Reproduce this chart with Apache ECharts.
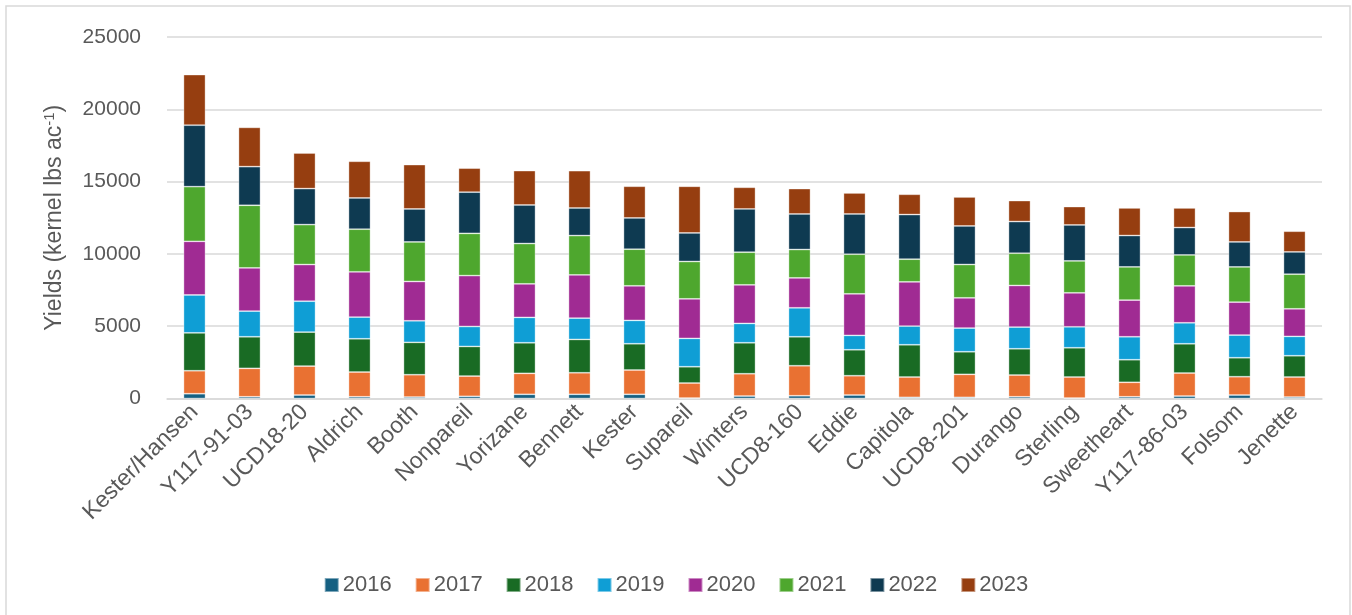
<!DOCTYPE html>
<html>
<head>
<meta charset="utf-8">
<script src="https://cdn.jsdelivr.net/npm/echarts@6/dist/echarts.min.js"></script>
<style>
html,body{margin:0;padding:0;background:#fff;}
#chart{width:1352px;height:615px;}
</style>
</head>
<body>
<div id="chart"></div>
<script>
const categories = ['Kester/Hansen','Y117-91-03','UCD18-20','Aldrich','Booth','Nonpareil','Yorizane','Bennett','Kester','Supareil','Winters','UCD8-160','Eddie','Capitola','UCD8-201','Durango','Sterling','Sweetheart','Y117-86-03','Folsom','Jenette'];
const years = ['2016','2017','2018','2019','2020','2021','2022','2023'];
const y2016 = [330,120,240,120,100,150,290,290,290,30,170,190,240,80,80,120,30,120,170,240,100];
const y2017 = [1590,1965,2000,1710,1545,1400,1450,1490,1680,1040,1543,2075,1335,1405,1591,1503,1455,1000,1591,1266,1385];
const y2018 = [2620,2183,2350,2300,2237,2050,2113,2306,1816,1126,2140,2003,1795,2230,1561,1816,2023,1561,2023,1312,1471];
const y2019 = [2620,1775,2140,1500,1492,1380,1755,1471,1616,1961,1340,2003,995,1292,1637,1499,1450,1588,1451,1567,1340];
const y2020 = [3710,2990,2535,3130,2720,3520,2320,2991,2390,2735,2666,2071,2873,3059,2092,2880,2349,2534,2555,2279,1906];
const y2021 = [3780,4330,2760,2950,2735,2920,2790,2720,2534,2583,2258,1962,2741,1568,2307,2230,2210,2300,2141,2438,2396];
const y2022 = [4250,2672,2490,2160,2280,2850,2666,1907,2162,1975,2991,2458,2783,3087,2666,2189,2486,2168,1892,1727,1540];
const y2023 = [3500,2715,2460,2535,3066,1660,2375,2582,2189,3225,1498,1754,1451,1402,2002,1451,1270,1907,1354,2099,1430];
const yTicks = [0,5000,10000,15000,20000,25000];
const colors = ['#156082','#E97132','#196B24','#0F9ED5','#A02B93','#4EA72E','#0E3A51','#963E10'];

const seriesData = [y2016,y2017,y2018,y2019,y2020,y2021,y2022,y2023];
const chart = echarts.init(document.getElementById('chart'), null, {renderer:'canvas'});
const textColor = '#595959';
const font = 'Liberation Sans, Arial, sans-serif';
const option = {
  animation: false,
  color: colors,
  graphic: [{
    type: 'rect', silent: true, z: -10,
    shape: {x: 6, y: 6, width: 1344, height: 640},
    style: {fill: 'none', stroke: '#d9d9d9', lineWidth: 1.5}
  }],
  grid: {left: 167, right: 30, top: 37, bottom: 216.5, containLabel: false},
  legend: {
    data: years, left: 'center', top: 569,
    itemWidth: 14, itemHeight: 14, itemGap: 23,
    icon: 'rect',
    textStyle: {fontFamily: font, fontSize: 22, color: textColor, padding: [0,0,0,-1]}
  },
  xAxis: {
    type: 'category', data: categories,
    axisLine: {show: true, lineStyle: {color: '#d9d9d9', width: 1.5}},
    axisTick: {show: false},
    axisLabel: {interval: 0, rotate: 45, margin: 10, fontFamily: font, fontSize: 23, color: textColor}
  },
  yAxis: {
    type: 'value', min: yTicks[0], max: yTicks[yTicks.length-1], interval: yTicks[1]-yTicks[0],
    axisLine: {show: false}, axisTick: {show: false},
    splitLine: {lineStyle: {color: '#d9d9d9', width: 1.5}},
    axisLabel: {margin: 26, fontFamily: font, fontSize: 21, color: textColor, formatter: v => String(v)},
    name: '{a|Yields (kernel lbs ac}{s|-1}{a|)}',
    nameLocation: 'middle', nameGap: 99, nameRotate: 90,
    nameTextStyle: {
      color: textColor,
      rich: {
        a: {fontFamily: font, fontSize: 23, color: textColor, lineHeight: 26},
        s: {fontFamily: font, fontSize: 15, color: textColor, verticalAlign: 'top', lineHeight: 26, padding: [0,0,8,0]}
      }
    }
  },
  series: years.map((y, i) => ({
    name: y, type: 'bar', stack: 'total', barWidth: 22,
    data: seriesData[i],
    itemStyle: {color: colors[i], borderColor: 'rgba(255,255,255,0.45)', borderWidth: 0.8}
  }))
};
chart.setOption(option);
</script>
</body>
</html>
